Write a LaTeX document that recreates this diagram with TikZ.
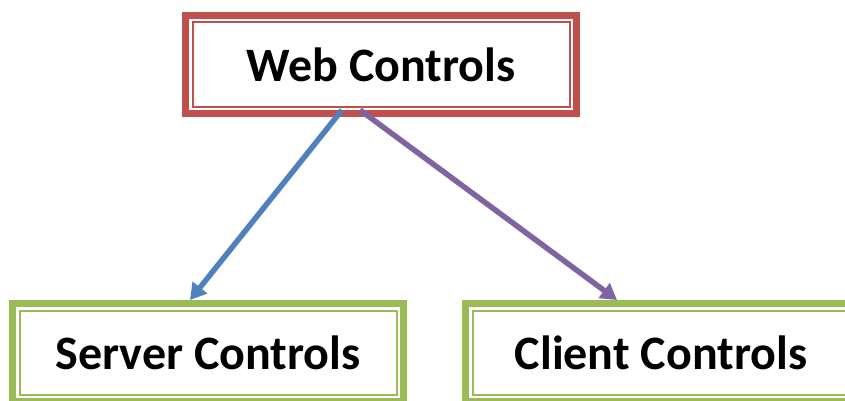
\documentclass[tikz,border=0pt]{standalone}
\usepackage{fontspec}
\setmainfont{Carlito}
\usetikzlibrary{arrows.meta}
\definecolor{webred}{HTML}{C0504D}
\definecolor{ctrlgreen}{HTML}{9BBB59}
\definecolor{srvblue}{HTML}{4F81BD}
\definecolor{clipurple}{HTML}{8064A2}
\begin{document}
\begin{tikzpicture}[x=1pt, y=1pt,
  every node/.style = {shape=rectangle, align=center, line width=7pt,
    minimum width=391pt, minimum height=98pt, inner sep=0pt,
    font=\fontsize{48}{52}\selectfont\bfseries},
  webbox/.style = {draw=webred},
  ctrlbox/.style = {draw=ctrlgreen},
  link/.style = {line width=5.5pt, -{Triangle[length=16pt,width=18pt]}}]
  \useasboundingbox (0,0) rectangle (845,400);
  \node [webbox] (web) at (381,335.5) {Web Controls};
  \node [ctrlbox] (server) at (208,47.5) {Server Controls};
  \node [ctrlbox] (client) at (661,47.5) {Client Controls};
  % thin inner frames
  \draw [webred, line width=2pt]
    ([shift={(10.5pt,10.5pt)}]web.south west) rectangle ([shift={(-10.5pt,-10.5pt)}]web.north east);
  \foreach \n in {server, client}
    \draw [ctrlgreen, line width=2pt]
      ([shift={(10.5pt,10.5pt)}]\n.south west) rectangle ([shift={(-10.5pt,-10.5pt)}]\n.north east);
  \draw [link, srvblue] ([xshift=-39pt,yshift=7pt]web.south)
    -- ([xshift=-18pt]server.north);
  \draw [link, clipurple] ([xshift=-21pt,yshift=7pt]web.south)
    -- ([xshift=-44pt]client.north);
\end{tikzpicture}
\end{document}
